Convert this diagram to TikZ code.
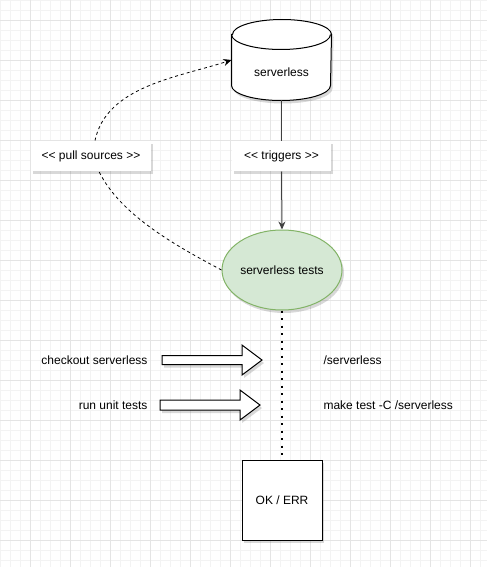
\documentclass[tikz,border=0pt]{standalone}
\usepackage{fontspec}
\setmainfont{Liberation Sans}
\usetikzlibrary{arrows.meta, positioning, shapes.geometric, shadows}

\definecolor{gridmajor}{HTML}{E4E4E4}
\definecolor{gridminor}{HTML}{F3F3F3}
\definecolor{testfill}{HTML}{D5E8D4}
\definecolor{testline}{HTML}{82B366}

\begin{document}
\begin{tikzpicture}[x=1pt, y=1pt, line width=1pt,
  every node/.style={font=\fontsize{12}{14}\selectfont, inner sep=0pt},
  softshadow/.style={drop shadow={shadow xshift=2pt, shadow yshift=-3pt, opacity=0.25, fill=black!60}},
  labelbox/.style={fill=white, minimum height=30pt, softshadow},
  blockarrow/.style={draw, fill=white, softshadow}]
  \useasboundingbox (0,0) rectangle (487,-567);

  % grid
  \fill[white] (0,0) rectangle (487,-567);
  \foreach \k in {0,...,48}
    \draw[gridminor] (0.7+10*\k,0) -- (0.7+10*\k,-567);
  \foreach \k in {0,...,56}
    \draw[gridminor] (0,-0.7-10*\k) -- (487,-0.7-10*\k);
  \foreach \k in {0,...,11}
    \draw[gridmajor] (30.7+40*\k,0) -- (30.7+40*\k,-567);
  \foreach \k in {0,...,13}
    \draw[gridmajor] (0,-20.7-40*\k) -- (487,-20.7-40*\k);

  % repository
  \node[minimum width=99pt, minimum height=80pt] (cyl) at (281.5,-60) {};
  \path[draw, fill=white, softshadow] ([yshift=-15pt]cyl.north west) -- ([yshift=15pt]cyl.south west)
    arc[start angle=180, end angle=360, x radius=49.5, y radius=15]
    -- ([yshift=-15pt]cyl.north east)
    arc[start angle=0, end angle=180, x radius=49.5, y radius=15] -- cycle;
  \draw ([yshift=-15pt]cyl.north west) arc[start angle=180, end angle=360, x radius=49.5, y radius=15];
  \node (cyltext) at (281.5,-72.5) {serverless};

  % labels
  \node[labelbox, minimum width=120pt] (pull) at (91,-156) {<{}< pull sources >{}>};
  \node[labelbox, minimum width=99pt] (trig) at (281.5,-156) {<{}< triggers >{}>};

  % test job
  \node[draw=testline, fill=testfill, ellipse, minimum width=120pt, minimum height=80pt, softshadow] (tests) at (282,-270) {serverless tests};
  \node[draw, fill=white, minimum size=80pt, softshadow] (result) at (282,-500) {OK / ERR};

  \draw[black!75] (cyl.south) -- (trig.north);
  \draw[black!75, -{Stealth[length=8pt, width=7pt]}] (trig.south) -- (tests.north);
  \draw[line width=0.8pt, dash pattern=on 3pt off 3pt] (tests.west) to[out=152, in=-64, looseness=0.8] ([xshift=8pt]pull.south);
  \draw[line width=0.8pt, dash pattern=on 3pt off 3pt, -{Stealth[length=8pt, width=7pt]}] ([xshift=4pt]pull.north) to[out=78, in=-162, looseness=0.9] (cyl.west);
  \draw[line width=2pt, dash pattern=on 2pt off 5.5pt] (tests.south) -- (result.north);

  % steps
  \draw[blockarrow] (162,-355.5) -- (242,-355.5) -- (242,-345) -- (262,-360) -- (242,-375) -- (242,-364.5) -- (162,-364.5) -- cycle;
  \draw[blockarrow] (160,-400) -- (240,-400) -- (240,-390) -- (260,-405) -- (240,-420) -- (240,-410) -- (160,-410) -- cycle;
  \node[anchor=east] (step1) at (148,-360) {checkout serverless};
  \node[anchor=east] (step2) at (148,-405) {run unit tests};
  \node[anchor=west] (dir1) at (323,-360) {/serverless};
  \node[anchor=west] (dir2) at (323,-405) {make test -C /serverless};
\end{tikzpicture}
\end{document}
